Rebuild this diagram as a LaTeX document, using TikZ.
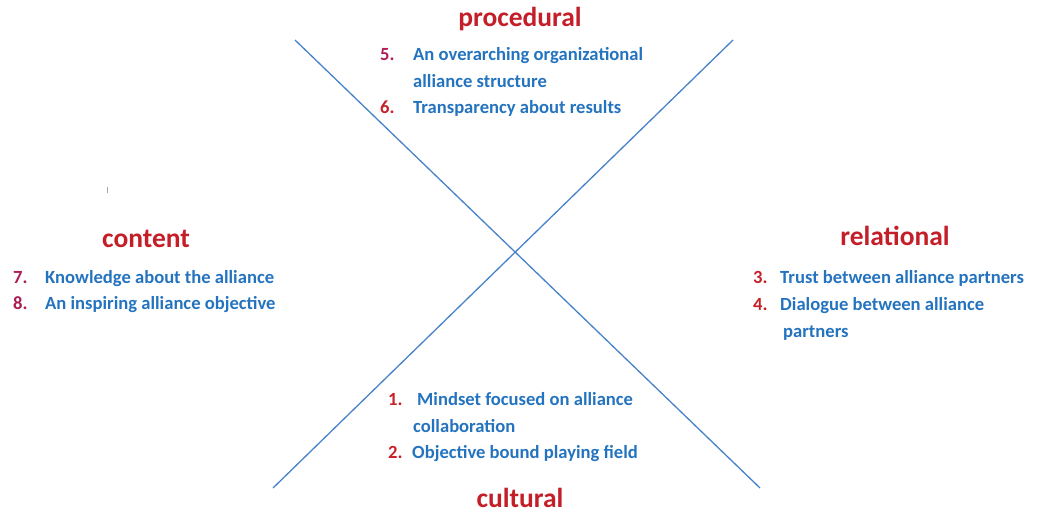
\documentclass[tikz,border=0pt]{standalone}
\usepackage{fontspec}
\setmainfont{Carlito}
\definecolor{ttlred}{RGB}{196,30,40}
\definecolor{numred}{RGB}{200,32,40}
\definecolor{nummag}{RGB}{172,30,85}
\definecolor{txtblue}{RGB}{36,115,190}
\definecolor{lineblue}{RGB}{70,130,200}
\tikzset{
  ttl/.style={font=\fontsize{27.5}{30}\selectfont\bfseries, text=ttlred, inner sep=0pt, anchor=base},
  itm/.style={font=\fontsize{18.6}{22}\selectfont\bfseries, text=txtblue, inner sep=0pt, anchor=base west},
  nr/.style={font=\fontsize{18.6}{22}\selectfont\bfseries, text=numred, inner sep=0pt, anchor=base west},
  nm/.style={font=\fontsize{18.6}{22}\selectfont\bfseries, text=nummag, inner sep=0pt, anchor=base west},
  xline/.style={draw=lineblue, line width=1.3pt}
}
\begin{document}
\begin{tikzpicture}[x=1pt,y=-1pt]
\useasboundingbox (0,0) rectangle (1040,511);
% crossing lines
\coordinate (a1) at (295,40);
\coordinate (a2) at (760,488);
\coordinate (b1) at (733,40);
\coordinate (b2) at (273,488);
\draw[xline] (a1) -- (a2);
\draw[xline] (b1) -- (b2);
% small tick
\coordinate (t1) at (107,187);
\coordinate (t2) at (107,193);
\draw[gray!70, line width=0.6pt] (t1) -- (t2);
% top
\node[ttl] (proc) at (520,27) {procedural};
\node[nm] (n5) at (380,60) {5.};
\node[itm] (i5a) at (413,60) {An overarching organizational};
\node[itm] (i5b) at (413,87) {alliance structure};
\node[nr] (n6) at (380,113) {6.};
\node[itm] (i6) at (413,113) {Transparency about results};
% left
\node[ttl] (cont) at (146,247) {content};
\node[nm] (n7) at (13,283) {7.};
\node[itm] (i7) at (45,283) {Knowledge about the alliance};
\node[nm] (n8) at (13,309) {8.};
\node[itm] (i8) at (45,309) {An inspiring alliance objective};
% right
\node[ttl] (rel) at (895,245) {relational};
\node[nr] (n3) at (753,283) {3.};
\node[itm] (i3) at (780,283) {Trust between alliance partners};
\node[nr] (n4) at (753,310) {4.};
\node[itm] (i4a) at (780,310) {Dialogue between alliance};
\node[itm] (i4b) at (783,337) {partners};
% bottom
\node[nr] (n1) at (388,405) {1.};
\node[itm] (i1a) at (417,405) {Mindset focused on alliance};
\node[itm] (i1b) at (413,432) {collaboration};
\node[nr] (n2) at (388,458) {2.};
\node[itm] (i2) at (412,458) {Objective bound playing field};
\node[ttl] (cult) at (520,507) {cultural};
\end{tikzpicture}
\end{document}
